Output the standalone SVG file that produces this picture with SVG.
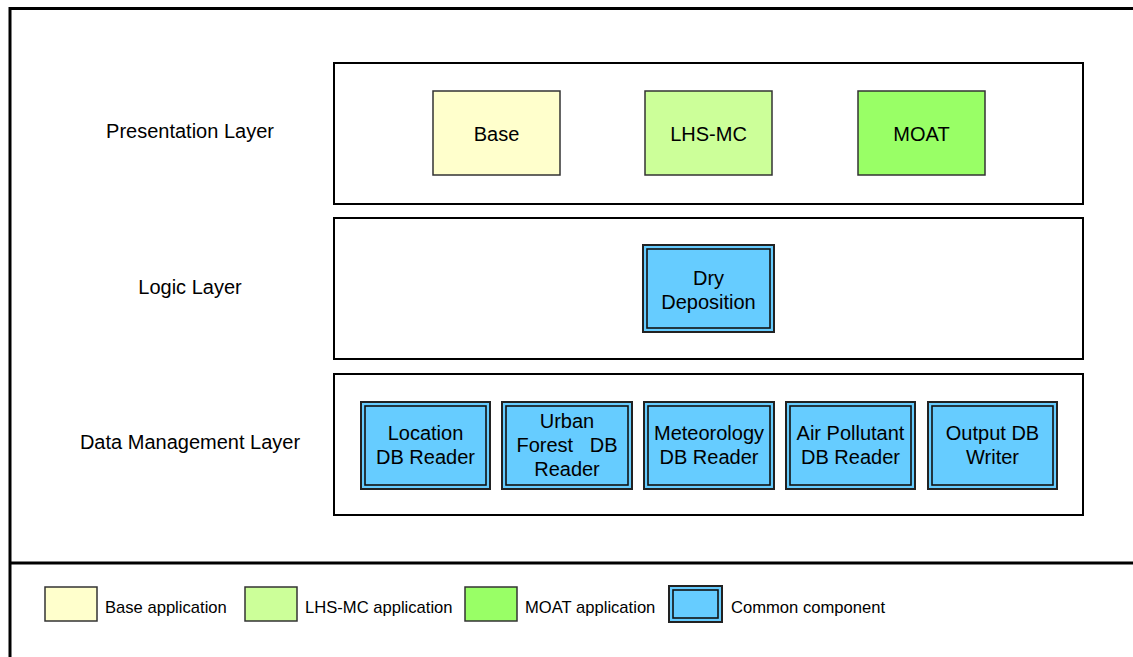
<svg xmlns="http://www.w3.org/2000/svg" width="1133" height="657" viewBox="0 0 1133 657">
  <style>
    text { font-family: "Liberation Sans", Arial, sans-serif; fill: #000; }
    .lbl { font-size: 20px; text-anchor: middle; }
    .layer-name { font-size: 20px; text-anchor: middle; }
    .legend-text { font-size: 16.6px; }
    .layer { fill: #fff; stroke: #000; stroke-width: 2; }
    .base { fill: #FFFFCC; stroke: #333; stroke-width: 1.5; }
    .lhs { fill: #CCFF99; stroke: #333; stroke-width: 1.5; }
    .moat { fill: #99FF66; stroke: #333; stroke-width: 1.5; }
    .common-outer { fill: #66CCFF; stroke: #222; stroke-width: 2; }
    .common-inner { fill: none; stroke: #111; stroke-width: 1.6; }
    .frame { stroke: #000; stroke-width: 3; fill: none; }
  </style>

  <rect x="0" y="0" width="1133" height="657" fill="#fff"/>

  <!-- outer frame and legend divider -->
  <path class="frame" d="M10 657 V8.5 H1133"/>
  <line class="frame" x1="10" y1="563" x2="1133" y2="563"/>

  <!-- layer containers -->
  <g id="layer-presentation">
    <rect class="layer" x="334" y="63" width="749" height="141"/>
    <text class="layer-name" x="190" y="138">Presentation Layer</text>
  </g>
  <g id="layer-logic">
    <rect class="layer" x="334" y="218" width="749" height="141"/>
    <text class="layer-name" x="190" y="294">Logic Layer</text>
  </g>
  <g id="layer-data">
    <rect class="layer" x="334" y="374" width="749" height="141"/>
    <text class="layer-name" x="190" y="449">Data Management Layer</text>
  </g>

  <!-- presentation nodes -->
  <g id="node-base">
    <rect class="base" x="433" y="91" width="127" height="84"/>
    <text class="lbl" x="496.5" y="141">Base</text>
  </g>
  <g id="node-lhsmc">
    <rect class="lhs" x="645" y="91" width="127" height="84"/>
    <text class="lbl" x="708.5" y="141">LHS-MC</text>
  </g>
  <g id="node-moat">
    <rect class="moat" x="858" y="91" width="127" height="84"/>
    <text class="lbl" x="921.5" y="141">MOAT</text>
  </g>

  <!-- logic node -->
  <g id="node-dry-deposition">
    <rect class="common-outer" x="643" y="245" width="131" height="87"/>
    <rect class="common-inner" x="647" y="249" width="123" height="79"/>
    <text class="lbl" x="708.5" y="285">Dry</text>
    <text class="lbl" x="708.5" y="309">Deposition</text>
  </g>

  <!-- data management nodes -->
  <g id="node-location-reader">
    <rect class="common-outer" x="361" y="402" width="129" height="87"/>
    <rect class="common-inner" x="365" y="406" width="121" height="79"/>
    <text class="lbl" x="425.5" y="440">Location</text>
    <text class="lbl" x="425.5" y="464">DB Reader</text>
  </g>
  <g id="node-urban-forest-reader">
    <rect class="common-outer" x="502" y="402" width="130" height="87"/>
    <rect class="common-inner" x="506" y="406" width="122" height="79"/>
    <text class="lbl" x="567" y="428">Urban</text>
    <text class="lbl" x="567" y="452" xml:space="preserve">Forest   DB</text>
    <text class="lbl" x="567" y="476">Reader</text>
  </g>
  <g id="node-meteorology-reader">
    <rect class="common-outer" x="644" y="402" width="130" height="87"/>
    <rect class="common-inner" x="648" y="406" width="122" height="79"/>
    <text class="lbl" x="709" y="440">Meteorology</text>
    <text class="lbl" x="709" y="464">DB Reader</text>
  </g>
  <g id="node-air-pollutant-reader">
    <rect class="common-outer" x="786" y="402" width="129" height="87"/>
    <rect class="common-inner" x="790" y="406" width="121" height="79"/>
    <text class="lbl" x="850.5" y="440">Air Pollutant</text>
    <text class="lbl" x="850.5" y="464">DB Reader</text>
  </g>
  <g id="node-output-writer">
    <rect class="common-outer" x="928" y="402" width="129" height="87"/>
    <rect class="common-inner" x="932" y="406" width="121" height="79"/>
    <text class="lbl" x="992.5" y="440">Output DB</text>
    <text class="lbl" x="992.5" y="464">Writer</text>
  </g>

  <!-- no connectors in this diagram -->
  <g id="connectors"/>

  <!-- legend -->
  <g id="legend">
    <rect class="base" x="45" y="587" width="52" height="34"/>
    <text class="legend-text" x="105" y="613">Base application</text>
    <rect class="lhs" x="245" y="587" width="52" height="34"/>
    <text class="legend-text" x="305" y="613">LHS-MC application</text>
    <rect class="moat" x="465" y="587" width="52" height="34"/>
    <text class="legend-text" x="525" y="613">MOAT application</text>
    <rect class="common-outer" x="669" y="586" width="53" height="36"/>
    <rect class="common-inner" x="673" y="590" width="45" height="28"/>
    <text class="legend-text" x="731" y="613">Common component</text>
  </g>
</svg>
